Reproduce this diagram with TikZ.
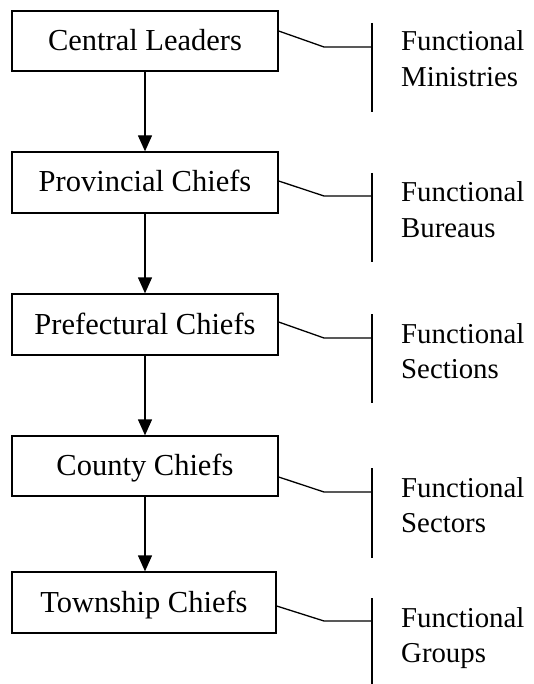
\documentclass[tikz,border=0pt]{standalone}
\usepackage{fontspec}
\setmainfont{Liberation Serif}
\usetikzlibrary{arrows.meta}
\tikzset{
  chiefbox/.style={draw, line width=1.3pt, minimum width=266pt, minimum height=61pt,
    inner sep=0pt, font=\fontsize{30.5}{36}\selectfont, text height=22pt, text depth=3pt},
  sidetext/.style={anchor=base west, inner sep=0pt, font=\fontsize{28.8}{36}\selectfont},
  link/.style={line width=1.3pt},
  downarrow/.style={line width=1.3pt, -{Triangle[length=16pt,width=14pt]}},
}
\begin{document}
\begin{tikzpicture}[x=1pt,y=-1pt]
\useasboundingbox (0,0) rectangle (533,684);
% boxes
\node[chiefbox, minimum height=60pt] (b1) at (145,41) {Central Leaders};
\node[chiefbox] (b2) at (145,182.5) {Provincial Chiefs};
\node[chiefbox] (b3) at (145,324.5) {Prefectural Chiefs};
\node[chiefbox, minimum height=60pt] (b4) at (145,466) {County Chiefs};
\node[chiefbox, minimum width=264pt] (b5) at (144,602.5) {Township Chiefs};
% arrows
\draw[downarrow] (b1.south -| 145,0) -- (b2.north -| 145,0);
\draw[downarrow] (b2.south -| 145,0) -- (b3.north -| 145,0);
\draw[downarrow] (b3.south -| 145,0) -- (b4.north -| 145,0);
\draw[downarrow] (b4.south -| 145,0) -- (b5.north -| 145,0);
% side groups
\coordinate (v1t) at (372,23);  \coordinate (v1b) at (372,112); \coordinate (k1) at (324,47);  \coordinate (h1) at (372,47);
\coordinate (v2t) at (372,173); \coordinate (v2b) at (372,262); \coordinate (k2) at (324,196); \coordinate (h2) at (372,196);
\coordinate (v3t) at (372,314); \coordinate (v3b) at (372,403); \coordinate (k3) at (324,338); \coordinate (h3) at (372,338);
\coordinate (v4t) at (372,468); \coordinate (v4b) at (372,558); \coordinate (k4) at (324,492); \coordinate (h4) at (372,492);
\coordinate (v5t) at (372,598); \coordinate (v5b) at (372,684); \coordinate (k5) at (324,621); \coordinate (h5) at (372,621);
\draw[link] (v1t) -- (v1b);
\draw[link] (v2t) -- (v2b);
\draw[link] (v3t) -- (v3b);
\draw[link] (v4t) -- (v4b);
\draw[link] (v5t) -- (v5b);
\draw[link] ([yshift=10pt]b1.east) -- (k1) -- (h1);
\draw[link] ([yshift=1.5pt]b2.east) -- (k2) -- (h2);
\draw[link] ([yshift=2.5pt]b3.east) -- (k3) -- (h3);
\draw[link] ([yshift=-11pt]b4.east) -- (k4) -- (h4);
\draw[link] ([yshift=-3.5pt]b5.east) -- (k5) -- (h5);
% labels
\node[sidetext] (f1) at (401,51) {Functional};
\node[sidetext] (m1) at (401,87) {Ministries};
\node[sidetext] (f2) at (401,202) {Functional};
\node[sidetext] (m2) at (401,237) {Bureaus};
\node[sidetext] (f3) at (401,343) {Functional};
\node[sidetext] (m3) at (401,378) {Sections};
\node[sidetext] (f4) at (401,497) {Functional};
\node[sidetext] (m4) at (401,532) {Sectors};
\node[sidetext] (f5) at (401,627) {Functional};
\node[sidetext] (m5) at (401,662) {Groups};
\end{tikzpicture}
\end{document}
